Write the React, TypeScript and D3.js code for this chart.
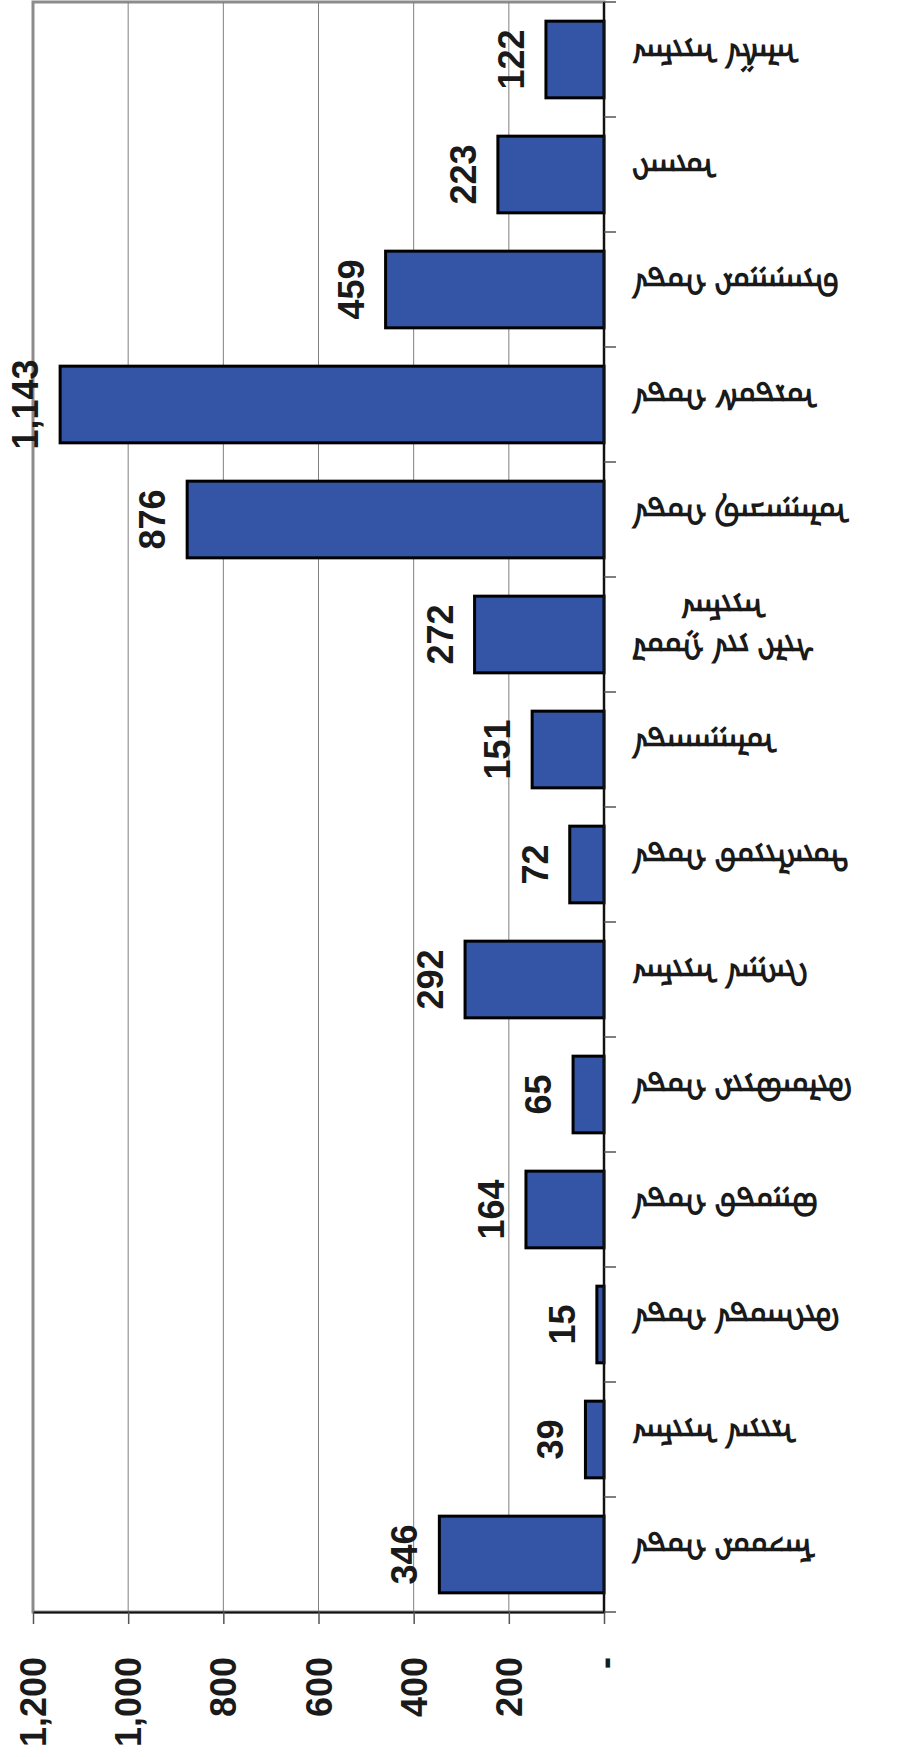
import React, { useEffect, useRef } from "react";
import * as d3 from "d3";

// original category order (left to right before the chart was turned on its side)
const categories = [
  "ᠮᠠᠨᠵᠤᠤᠷ ᠬᠣᠲᠠ",
  "ᠡᠷᠢᠶᠠᠨ ᠠᠶᠢᠮᠠᠭ",
  "ᠬᠥᠬᠡᠬᠣᠲᠠ ᠬᠣᠲᠠ",
  "ᠪᠤᠭᠤᠲᠤ ᠬᠣᠲᠠ",
  "ᠬᠥᠯᠥᠨᠪᠤᠶᠢᠷ ᠬᠣᠲᠠ",
  "ᠬᠢᠩᠭᠠᠨ ᠠᠶᠢᠮᠠᠭ",
  "ᠲᠦᠩᠯᠢᠶᠣᠣ ᠬᠣᠲᠠ",
  "ᠤᠯᠠᠭᠠᠨᠬᠠᠳᠠ",
  "ᠰᠢᠯᠢ ᠶᠢᠨ ᠭᠣᠣᠯ\nᠠᠶᠢᠮᠠᠭ",
  "ᠤᠯᠠᠭᠠᠨᠴᠠᠪ ᠬᠣᠲᠠ",
  "ᠣᠷᠳᠣᠰ ᠬᠣᠲᠠ",
  "ᠪᠠᠶᠠᠨᠨᠠᠭᠤᠷ ᠬᠣᠲᠠ",
  "ᠦᠬᠠᠢ",
  "ᠠᠯᠠᠱᠠ ᠠᠶᠢᠮᠠᠭ",
];
const values = [346, 39, 15, 164, 65, 292, 72, 151, 272, 876, 1143, 459, 223, 122];
const tickValues = [0, 200, 400, 600, 800, 1000, 1200];

const width = 899;
const height = 1757;

export default function App() {
  const ref = useRef<SVGSVGElement>(null);

  useEffect(() => {
    const svg = d3.select(ref.current);
    svg.selectAll("*").remove();

    const margin = { top: 2, right: 295, bottom: 145, left: 33 };
    const font = "'Liberation Sans', Arial, sans-serif";

    const x = d3
      .scaleLinear()
      .domain([0, 1200])
      .range([width - margin.right, margin.left]);

    const y = d3
      .scaleBand()
      .domain(categories)
      .range([height - margin.bottom, margin.top])
      .paddingInner(1 / 3)
      .paddingOuter(1 / 6);

    const x0 = x(0);
    const bottom = height - margin.bottom;
    const step = y.step();

    // plot area border
    svg
      .append("rect")
      .attr("x", margin.left)
      .attr("y", margin.top)
      .attr("width", x0 - margin.left)
      .attr("height", bottom - margin.top)
      .attr("fill", "none")
      .attr("stroke", "#8c8c8c")
      .attr("stroke-width", 3);

    // grid lines
    svg
      .append("g")
      .selectAll("line")
      .data(tickValues.filter((d) => d > 0 && d < 1200))
      .join("line")
      .attr("x1", (d) => x(d))
      .attr("x2", (d) => x(d))
      .attr("y1", margin.top)
      .attr("y2", bottom)
      .attr("stroke", "#808080")
      .attr("stroke-width", 1);

    // bars
    svg
      .append("g")
      .selectAll("rect")
      .data(categories)
      .join("rect")
      .attr("x", (d, i) => x(values[i]))
      .attr("y", (d) => y(d)!)
      .attr("width", (d, i) => x0 - x(values[i]))
      .attr("height", y.bandwidth())
      .attr("fill", "#3454a5")
      .attr("stroke", "#000")
      .attr("stroke-width", 3);

    // value labels
    svg
      .append("g")
      .selectAll("text")
      .data(categories)
      .join("text")
      .attr(
        "transform",
        (d, i) =>
          `translate(${x(values[i]) - 22},${y(d)! + y.bandwidth() / 2}) rotate(-90)`
      )
      .attr("text-anchor", "middle")
      .attr("font-family", font)
      .attr("font-weight", "bold")
      .attr("font-size", 36)
      .attr("fill", "#1a1a1a")
      .text((d, i) => d3.format(",")(values[i]));

    // value axis (bottom)
    const xAxis = svg
      .append("g")
      .attr("transform", `translate(0,${bottom})`)
      .call(
        d3
          .axisBottom(x)
          .tickValues(tickValues)
          .tickSize(12)
          .tickSizeOuter(0)
          .tickFormat((d) => (+d === 0 ? "-" : d3.format(",")(+d)))
      );
    xAxis.select(".domain").attr("stroke", "#111").attr("stroke-width", 2);
    xAxis.selectAll(".tick line").attr("stroke", "#555").attr("stroke-width", 1.5);
    xAxis
      .selectAll(".tick text")
      .attr("x", 0)
      .attr("y", 0)
      .attr("dy", "0.35em")
      .attr("transform", "translate(0,45) rotate(-90)")
      .attr("text-anchor", "end")
      .attr("font-family", font)
      .attr("font-weight", "bold")
      .attr("font-size", 36)
      .attr("fill", "#1a1a1a");

    // category axis (right)
    svg
      .append("line")
      .attr("x1", x0)
      .attr("x2", x0)
      .attr("y1", margin.top)
      .attr("y2", bottom + 1)
      .attr("stroke", "#111")
      .attr("stroke-width", 2);

    svg
      .append("g")
      .selectAll("line")
      .data(d3.range(categories.length + 1))
      .join("line")
      .attr("x1", x0)
      .attr("x2", x0 + 12)
      .attr("y1", (i) => bottom - i * step)
      .attr("y2", (i) => bottom - i * step)
      .attr("stroke", "#555")
      .attr("stroke-width", 1.5);

    // category labels: the picture shows them turned half round, so each
    // block hangs from the axis side; wrapped lines are centred on the band
    const lineGap = 40;
    const labels = svg
      .append("g")
      .selectAll("g")
      .data(categories)
      .join("g")
      .attr(
        "transform",
        (d) => `translate(${x0 + 28},${y(d)! + y.bandwidth() / 2}) rotate(180)`
      );

    labels.each(function (d) {
      const g = d3.select(this);
      const lines = d.split("\n");
      const texts = lines.map((line, j) =>
        g
          .append("text")
          .attr("y", (j - (lines.length - 1) / 2) * lineGap)
          .attr("dominant-baseline", "central")
          .attr("text-anchor", "middle")
          .attr("font-family", "'Noto Sans Mongolian', 'Noto Sans', sans-serif")
          .attr("font-weight", "bold")
          .attr("font-size", 31)
          .attr("fill", "#1a1a1a")
          .text(line)
      );
      const widths = texts.map((t) => (t.node() as SVGTextElement).getComputedTextLength());
      const maxW = d3.max(widths) || 0;
      texts.forEach((t) => t.attr("x", -maxW / 2));
    });
  }, []);

  return (
    <svg
      ref={ref}
      width={width}
      height={height}
      style={{ position: "absolute", left: 0, top: 0, background: "#fff" }}
    ></svg>
  );
}
